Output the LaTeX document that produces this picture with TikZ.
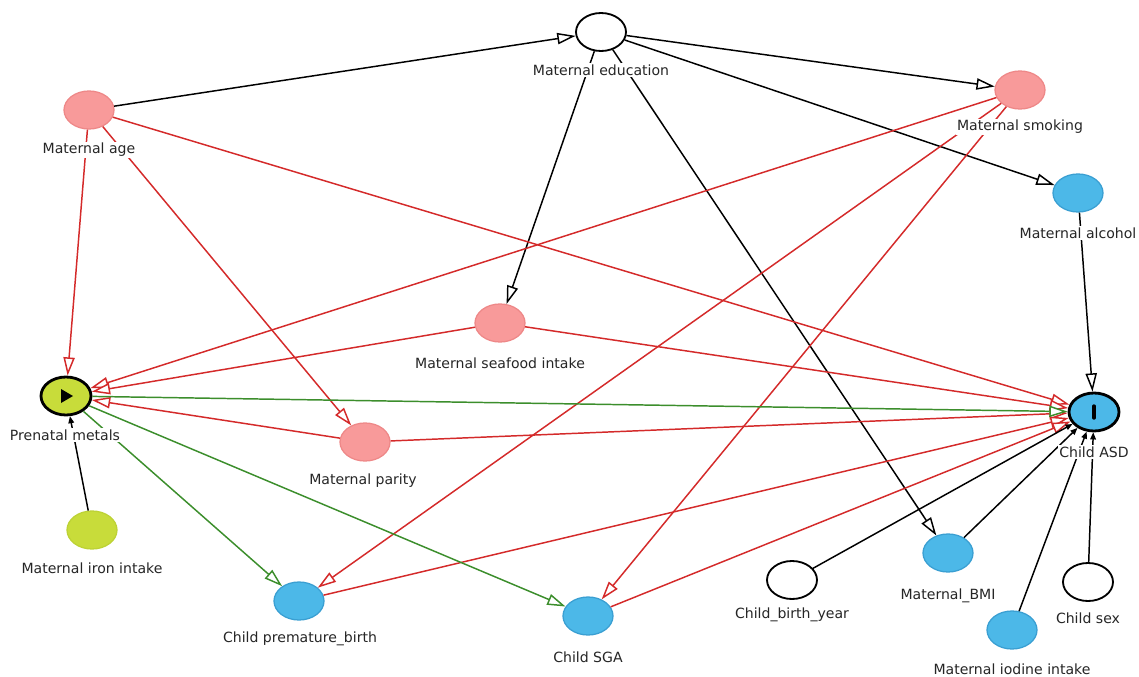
\documentclass[tikz,border=0pt]{standalone}
\usepackage{fontspec}
\setmainfont{DejaVu Sans}
\usetikzlibrary{arrows.meta,shapes.geometric}

\definecolor{pinkfill}{HTML}{F89A9A}
\definecolor{pinkline}{HTML}{EE8888}
\definecolor{bluefill}{HTML}{4CB8E8}
\definecolor{blueline}{HTML}{3A9FD2}
\definecolor{limefill}{HTML}{C8DC3A}
\definecolor{limeline}{HTML}{BDD235}
\definecolor{biasred}{HTML}{D42A2A}
\definecolor{causalgreen}{HTML}{3C8E2C}

\tikzset{
  var/.style={ellipse, minimum width=1.25cm, minimum height=0.95cm, inner sep=0pt, line width=0.9pt},
  plain/.style={var, draw=black, fill=white, line width=1.3pt},
  anc/.style={var, draw=pinkline, fill=pinkfill},
  adj/.style={var, draw=blueline, fill=bluefill},
  ancexp/.style={var, draw=limeline, fill=limefill},
  lbl/.style={fill=white, inner sep=1pt, text=black!85, font=\fontsize{10pt}{12pt}\selectfont},
  blackarr/.style={draw=black, line width=1.05pt, -{Triangle[open, fill=white, length=13pt, width=8pt]}},
  redarr/.style={draw=biasred, line width=1.05pt, -{Triangle[open, fill=white, length=13pt, width=8pt]}},
  greenarr/.style={draw=causalgreen, line width=1.05pt, -{Triangle[open, fill=white, length=13pt, width=8pt]}},
  smallarr/.style={draw=black, line width=1.05pt, -{Triangle[length=5pt, width=4pt]}}
}

\begin{document}
\begin{tikzpicture}[x=0.025cm, y=-0.025cm]
\useasboundingbox (0,0) rectangle (1139,677);

\node[plain] (edu) at (601,32) {};
\node[anc] (age) at (89,110) {};
\node[anc] (smk) at (1020,90) {};
\node[adj] (alc) at (1078,193) {};
\node[anc] (sea) at (500,323) {};
\node[var, draw=black, fill=limefill, line width=2pt] (met) at (66,396) {};
\node[anc] (par) at (365,442) {};
\node[var, draw=black, fill=bluefill, line width=2pt] (asd) at (1094,412) {};
\node[ancexp] (iron) at (92,530) {};
\node[adj] (pre) at (299,601) {};
\node[adj] (sga) at (588,616) {};
\node[plain] (byr) at (792,580) {};
\node[adj] (bmi) at (948,553) {};
\node[adj] (iod) at (1012,630) {};
\node[plain] (sex) at (1088,582) {};

\fill[black] (met.center) ++(-5,-7) -- ++(0,14) -- ++(12,-7) -- cycle;
\draw[black, line width=2.4pt, line cap=round] (asd.center) ++(0,-6) -- ++(0,12);

\draw[blackarr] (age) -- (edu);
\draw[blackarr] (edu) -- (smk);
\draw[blackarr] (edu) -- (alc);
\draw[blackarr] (edu) -- (sea);
\draw[blackarr] (edu) -- (bmi);
\draw[blackarr] (alc) -- (asd);

\draw[redarr] (age) -- (met);
\draw[redarr] (age) -- (par);
\draw[redarr] (age) -- (asd);
\draw[redarr] (smk) -- (met);
\draw[redarr] (smk) -- (pre);
\draw[redarr] (smk) -- (sga);
\draw[redarr] (sea) -- (met);
\draw[redarr] (sea) -- (asd);
\draw[redarr] (par) -- (met);
\draw[redarr] (par) -- (asd);
\draw[redarr] (pre) -- (asd);
\draw[redarr] (sga) -- (asd);

\draw[greenarr] (met) -- (asd);
\draw[greenarr] (met) -- (pre);
\draw[greenarr] (met) -- (sga);

\draw[smallarr] (iron) -- (met);
\draw[smallarr] (byr) -- (asd);
\draw[smallarr] (bmi) -- (asd);
\draw[smallarr] (iod) -- (asd);
\draw[smallarr] (sex) -- (asd);

\node[lbl] (edu-l) at (601,70) {Maternal education};
\node[lbl] (age-l) at (89,150) {Maternal age};
\node[lbl] (smk-l) at (1020,127) {Maternal smoking};
\node[lbl] (alc-l) at (1078,233) {Maternal alcohol};
\node[lbl] (sea-l) at (500,363) {Maternal seafood intake};
\node[lbl] (met-l) at (65,435) {Prenatal metals};
\node[lbl] (par-l) at (363,481) {Maternal parity};
\node[lbl] (asd-l) at (1094,452) {Child ASD};
\node[lbl] (iron-l) at (92,568) {Maternal iron intake};
\node[lbl] (pre-l) at (300,639) {Child premature\_birth};
\node[lbl] (sga-l) at (588,657) {Child SGA};
\node[lbl] (byr-l) at (792,615) {Child\_birth\_year};
\node[lbl] (bmi-l) at (948,596) {Maternal\_BMI};
\node[lbl] (iod-l) at (1012,669) {Maternal iodine intake};
\node[lbl] (sex-l) at (1088,618) {Child sex};

\end{tikzpicture}
\end{document}
